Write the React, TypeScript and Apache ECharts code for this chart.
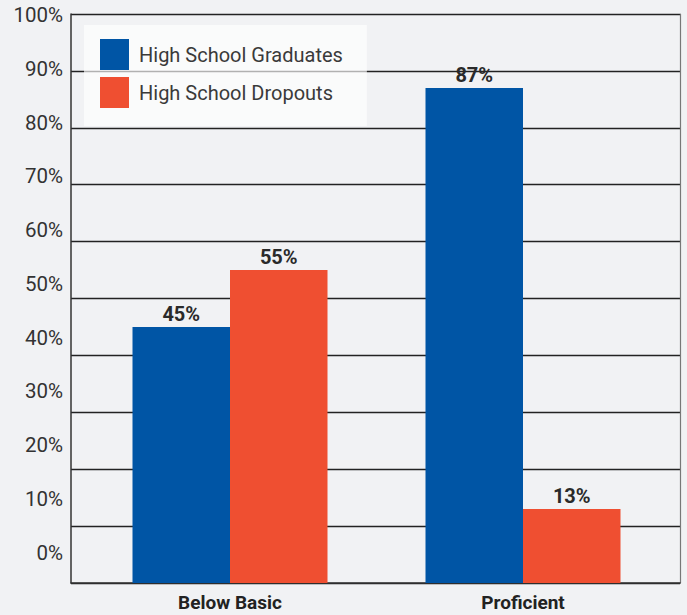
import React, { useEffect, useRef } from "react";
import * as echarts from "echarts";

const categories = ["Below Basic", "Proficient"];
const graduates = [45, 87];
const dropouts = [55, 13];
const tickValues = [0, 10, 20, 30, 40, 50, 60, 70, 80, 90, 100];
const seriesNames = ["High School Graduates", "High School Dropouts"];

export default function App() {
  const ref = useRef<HTMLDivElement>(null);
  useEffect(() => {
    document.body.style.margin = "0";
    const chart = echarts.init(ref.current!, null, { renderer: "svg" });
    const boldFont = "Roboto, 'Noto Sans', sans-serif";
    const thinFont = "Roboto, 'Noto Sans', sans-serif";
    chart.setOption({
      animation: false,
      backgroundColor: "#f1f2f4",
      grid: [
        { left: 71, right: 7, top: 14, bottom: 32 },
        { left: 83.5, right: 17.5, top: 14, bottom: 32 },
      ],
      legend: {
        data: seriesNames,
        orient: "vertical",
        left: 84,
        top: 25,
        padding: [14, 24, 18, 16],
        itemWidth: 29,
        itemHeight: 31,
        itemGap: 7,
        backgroundColor: "rgba(255,255,255,0.65)",
        icon: "rect",
        textStyle: { fontSize: 20, color: "#3a3a3a", fontFamily: thinFont, padding: [0, 0, 0, 5] },
      },
      xAxis: [
        {
          gridIndex: 0, type: "value", min: 0, max: 1,
          axisLine: { show: true, lineStyle: { color: "#333", width: 1.5 } },
          axisTick: { show: false }, axisLabel: { show: false }, splitLine: { show: false },
        },
        {
          gridIndex: 1, type: "category", data: categories,
          axisLine: { show: false }, axisTick: { show: false },
          axisLabel: { fontSize: 19, fontWeight: "bold", color: "#222", fontFamily: boldFont, margin: 10 },
        },
      ],
      yAxis: [
        {
          gridIndex: 0, type: "value", min: 0, max: 100, interval: 10,
          axisLine: { show: true, lineStyle: { color: "#333", width: 1.5 } },
          axisTick: { show: false }, axisLabel: { show: false },
          splitLine: { show: true, lineStyle: { color: "#222", width: 1.4 } },
        },
        {
          gridIndex: 0, type: "value", min: -5.67, max: 100.19, position: "left",
          axisLine: { show: false }, axisTick: { show: false }, splitLine: { show: false },
          axisLabel: {
            customValues: tickValues,
            formatter: "{value}%",
            fontSize: 20.5, color: "#333", fontFamily: thinFont, margin: 8,
          },
        },
        {
          gridIndex: 0, type: "value", min: 0, max: 100, position: "right",
          axisLine: { show: true, lineStyle: { color: "#777", width: 1.2 } },
          axisTick: { show: false }, axisLabel: { show: false }, splitLine: { show: false },
        },
        {
          gridIndex: 1, type: "value", min: 0, max: 100, show: false,
        },
      ],
      series: [
        {
          name: seriesNames[0], type: "bar", xAxisIndex: 1, yAxisIndex: 3,
          data: graduates, barWidth: 97.5, barGap: "0%",
          itemStyle: { color: "#0055a5" },
          label: { show: true, position: "top", distance: 3, formatter: "{c}%", fontSize: 20, fontWeight: "bold", color: "#2a2a2a", fontFamily: boldFont },
        },
        {
          name: seriesNames[1], type: "bar", xAxisIndex: 1, yAxisIndex: 3,
          data: dropouts, barWidth: 97.5, barGap: "0%",
          itemStyle: { color: "#ef4f31" },
          label: { show: true, position: "top", distance: 3, formatter: "{c}%", fontSize: 20, fontWeight: "bold", color: "#2a2a2a", fontFamily: boldFont },
        },
      ],
    });
    return () => chart.dispose();
  }, []);
  return <div ref={ref} style={{ position: "absolute", left: 0, top: 0, width: 687, height: 615 }} />;
}
